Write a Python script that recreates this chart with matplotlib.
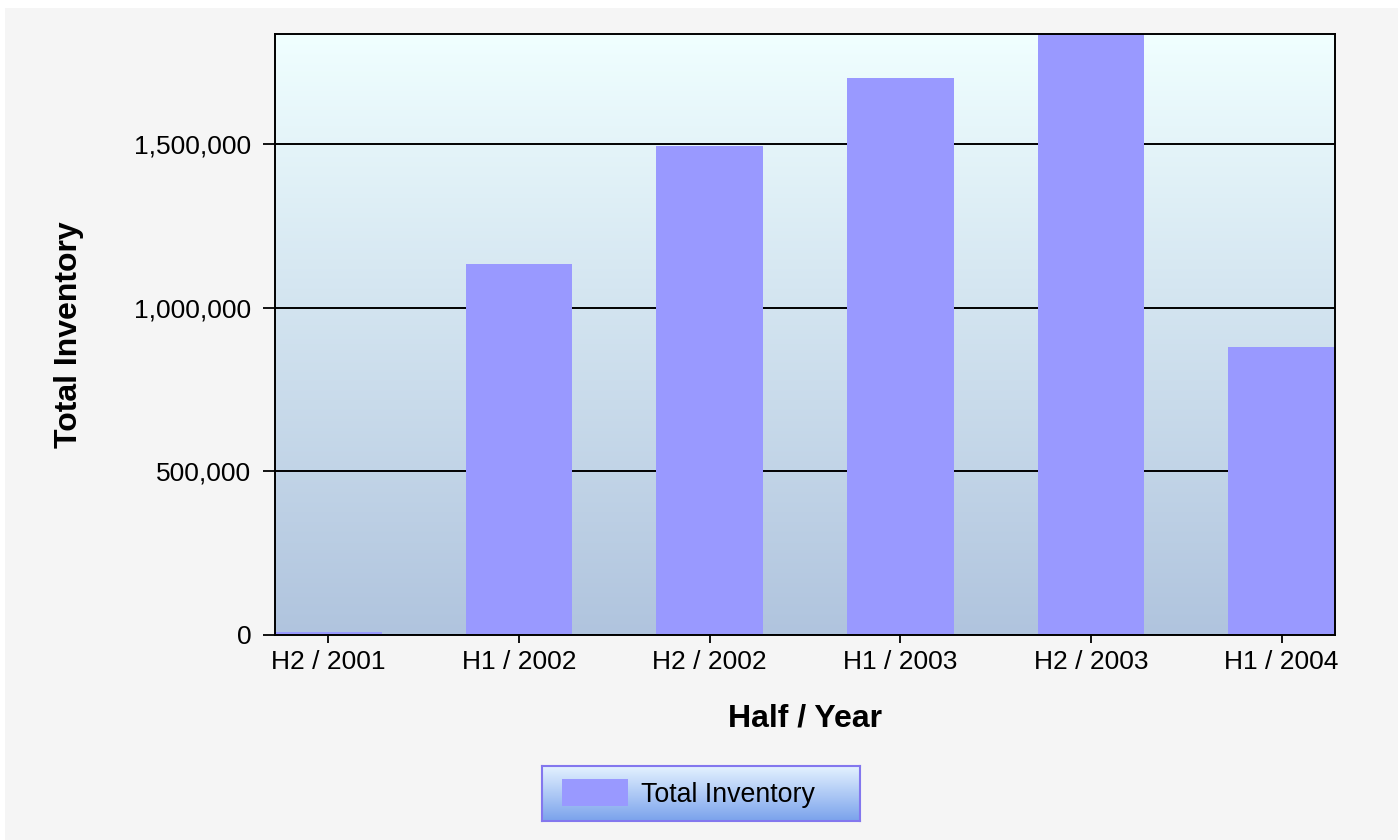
import matplotlib.pyplot as plt
import numpy as np
from matplotlib.patches import Rectangle, Patch
from matplotlib.ticker import FuncFormatter
import matplotlib

matplotlib.rcParams['font.family'] = ['Liberation Sans', 'DejaVu Sans']

Halves = ["H2 / 2001", "H1 / 2002", "H2 / 2002", "H1 / 2003", "H2 / 2003", "H1 / 2004"]
Inventory = [8000, 1133000, 1494000, 1702000, 1836000, 880000]
YTicks = [0, 500000, 1000000, 1500000]

fig = plt.figure(figsize=(14, 8.4), dpi=100, facecolor="white")
# grey panel behind everything, white strip at top/left like the original
fig.patches.append(Rectangle((5/1400, 0), 1393/1400, 832/840, transform=fig.transFigure,
                             facecolor="#f5f5f5", edgecolor="none", zorder=-10))

ax = fig.add_axes([275/1400, 205/840, 1060/1400, 601/840])
ax.set_facecolor("none")

# vertical gradient for the plot area (azure -> lightsteelblue)
top = np.array([240, 255, 255]) / 255.0
bot = np.array([176, 196, 222]) / 255.0
t = np.linspace(0, 1, 256)[:, None]
grad = (top * (1 - t) + bot * t)[:, None, :]
ax.imshow(grad, extent=[0, 1, 0, 1], transform=ax.transAxes, aspect="auto", zorder=0)

x = np.arange(len(Halves))
ax.bar(x, Inventory, width=0.56, color="#9999ff", edgecolor="none", zorder=3)

ax.set_xlim(-0.28, len(Halves) - 1 + 0.28)
ax.set_ylim(0, max(Inventory))
ax.set_yticks(YTicks)
ax.yaxis.set_major_formatter(FuncFormatter(lambda v, p: f"{int(v):,}"))
ax.set_xticks(x)
ax.set_xticklabels(Halves)
ax.yaxis.grid(True, color="black", linewidth=1.4, zorder=2)
ax.set_axisbelow(False)
for g in ax.get_ygridlines():
    g.set_zorder(2)

for s in ax.spines.values():
    s.set_color("black")
    s.set_linewidth(1.4)
    s.set_zorder(4)

ax.tick_params(axis="y", length=9, width=1.3, pad=8, labelsize=19)
ax.tick_params(axis="x", length=6, width=1.3, pad=5, labelsize=19)

ax.set_xlabel("Half / Year", fontsize=23, fontweight="bold", labelpad=21)
ax.set_ylabel("Total Inventory", fontsize=23, fontweight="bold", labelpad=36)

# legend box with its own gradient
lax = fig.add_axes([542/1400, 19/840, 318/1400, 55/840])
ltop = np.array([228, 242, 255]) / 255.0
lbot = np.array([122, 162, 236]) / 255.0
lgrad = (ltop * (1 - t) + lbot * t)[:, None, :]
lax.imshow(lgrad, extent=[0, 1, 0, 1], aspect="auto")
lax.set_xlim(0, 1)
lax.set_ylim(0, 1)
lax.set_xticks([])
lax.set_yticks([])
for s in lax.spines.values():
    s.set_color("#8377ee")
    s.set_linewidth(1.5)
lax.legend(handles=[Patch(facecolor="#9999ff", edgecolor="none", label="Total Inventory")],
           loc="center left", bbox_to_anchor=(20/318, 0.5), frameon=False, fontsize=19.3,
           handlelength=2.45, handleheight=1.15, handletextpad=0.5, borderpad=0, borderaxespad=0)

fig.savefig("out.png", dpi=100)
